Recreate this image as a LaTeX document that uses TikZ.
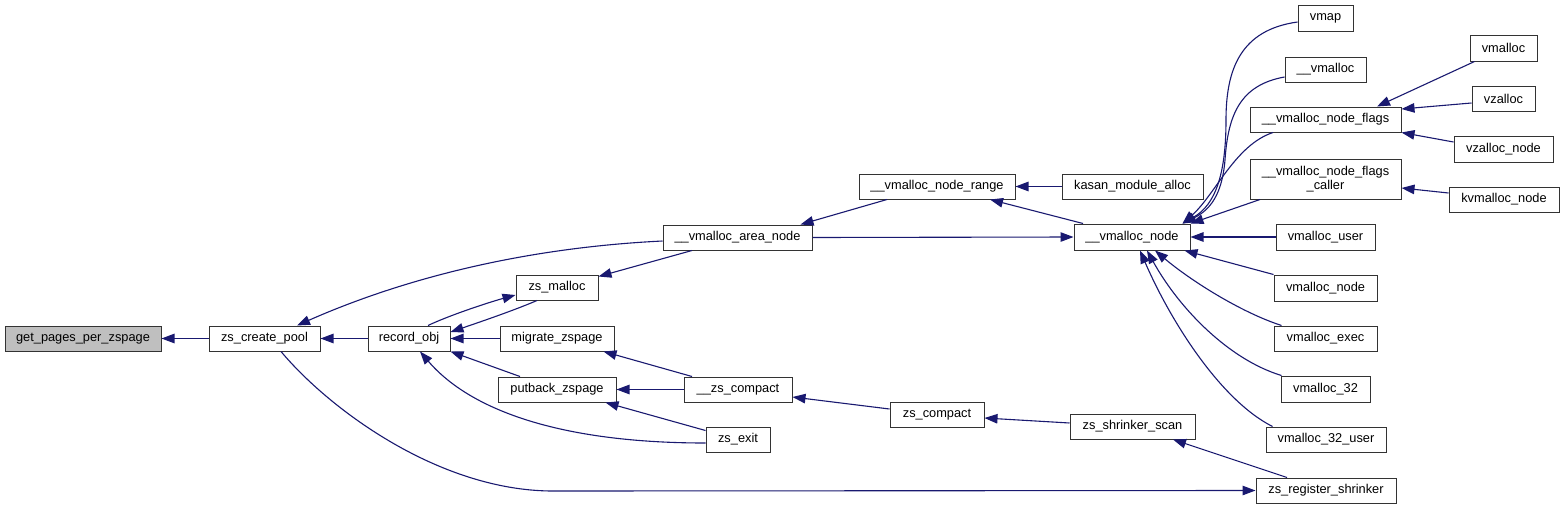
\documentclass[tikz,border=0pt]{standalone}
\usepackage{fontspec}
\setmainfont{Liberation Sans}
\usetikzlibrary{arrows.meta}
\definecolor{edgeblue}{HTML}{191970}
\definecolor{hlgray}{HTML}{BFBFBF}
\newcommand\nd[7][]{\node[box,#1,minimum width={#5-#3},minimum height={#6-#4}] (#2) at ({(#3+#5)/2},{(#4+#6)/2}) {#7};}
\begin{document}
\begin{tikzpicture}[x=1pt,y=-1pt,
  box/.style={draw=black!80,line width=1pt,fill=white,inner sep=0pt,font=\fontsize{12.8}{14}\selectfont,align=center},
  edge/.style={draw=edgeblue,line width=1.1pt,-{Triangle[length=13pt,width=9.5pt]}}]
\useasboundingbox[fill=white] (0,0) rectangle (1564,509);
% nodes
\nd[fill=hlgray]{gp}{5}{326}{161}{351}{get\_pages\_per\_zspage}
\nd{zcp}{209}{326}{320}{351}{zs\_create\_pool}
\nd{ro}{368}{326}{450}{351}{record\_obj}
\nd{zm}{516}{275}{598}{300}{zs\_malloc}
\nd{mz}{500}{326}{614}{351}{migrate\_zspage}
\nd{pz}{498}{377}{616}{402}{putback\_zspage}
\nd{ze}{706}{427}{770}{452}{zs\_exit}
\nd{zsc}{684}{377}{792}{402}{\_\_zs\_compact}
\nd{van}{663}{225}{812}{250}{\_\_vmalloc\_area\_node}
\nd{vnr}{859}{174}{1015}{199}{\_\_vmalloc\_node\_range}
\nd{kma}{1062}{174}{1203}{199}{kasan\_module\_alloc}
\nd{vn}{1074}{224}{1190}{250}{\_\_vmalloc\_node}
\nd{zc}{890}{402}{984}{427}{zs\_compact}
\nd{zss}{1070}{414}{1195}{439}{zs\_shrinker\_scan}
\nd{zrs}{1256}{478}{1396}{503}{zs\_register\_shrinker}
\nd{vmap}{1298}{5}{1353}{31}{vmap}
\nd{uv}{1285}{57}{1366}{82}{\_\_vmalloc}
\nd{vnf}{1250}{107}{1401}{132}{\_\_vmalloc\_node\_flags}
\nd{vnfc}{1250}{159}{1401}{199}{\_\_vmalloc\_node\_flags\\\_caller}
\nd{vu}{1276}{224}{1375}{250}{vmalloc\_user}
\nd{vmn}{1274}{275}{1377}{301}{vmalloc\_node}
\nd{vex}{1274}{326}{1377}{351}{vmalloc\_exec}
\nd{v32}{1281}{376}{1370}{402}{vmalloc\_32}
\nd{v32u}{1266}{427}{1386}{452}{vmalloc\_32\_user}
\nd{vm}{1470}{35}{1537}{61}{vmalloc}
\nd{vz}{1472}{86}{1535}{111}{vzalloc}
\nd{vzn}{1454}{136}{1553}{162}{vzalloc\_node}
\nd{kvn}{1449}{187}{1559}{212}{kvmalloc\_node}
% edges
\draw[edge] (zcp) -- (gp);
\draw[edge] (ro) -- (zcp);
\draw[edge] ([yshift=-3.5pt]van.west) .. controls (520,248) and (400,280) .. ([xshift=32.5pt]zcp.north);
\draw[edge] ([xshift=16.5pt]zcp.south) .. controls (330,410) and (440,491) .. (553,491) -- (zrs.west);
\draw[edge] ([xshift=-20pt]zm.south) .. controls (515,310) and (480,322) .. ([yshift=6.5pt]ro.east);
\draw[edge] ([xshift=19pt]ro.north) .. controls (450,315) and (490,302) .. ([yshift=-7.5pt]zm.west);
\draw[edge] (mz) -- (ro);
\draw[edge] ([xshift=-37pt]pz.north) -- (ro.south east);
\draw[edge] ([yshift=-3.5pt]ze.west) .. controls (560,443) and (470,410) .. ([xshift=11pt]ro.south);
\draw[edge] ([xshift=-45.5pt]van.south) -- ([yshift=-2pt]zm.north east);
\draw[edge] ([xshift=-46pt]zsc.north) -- ([xshift=-11pt]mz.south east);
\draw[edge] (zsc) -- (pz);
\draw[edge] ([yshift=-4pt]ze.north west) -- ([xshift=-11pt]pz.south east);
\draw[edge] ([yshift=5.5pt]zc.west) -- ([yshift=-7.5pt]zsc.east);
\draw[edge] ([yshift=3.5pt]zss.west) -- ([yshift=-3.5pt]zc.east);
\draw[edge] ([xshift=-39pt]zrs.north) -- ([xshift=40.5pt]zss.south);
\draw[edge] ([xshift=-50pt]vnr.south) -- ([xshift=-12pt]van.north east);
\draw[edge] (van.east) -- (vn.west);
\draw[edge] (kma) -- (vnr);
\draw[edge] ([xshift=-49pt]vn.north) -- ([xshift=53pt]vnr.south);
\draw[edge] ([yshift=-4pt]vmap.west) .. controls (1240,30) and (1226,70) .. (1226,120) .. controls (1226,175) and (1215,205) .. ([xshift=-8pt]vn.north east);
\draw[edge] ([yshift=-7.5pt]uv.west) .. controls (1240,85) and (1228,115) .. (1225,160) .. controls (1222,195) and (1210,210) .. ([xshift=-8pt]vn.north east);
\draw[edge] ([xshift=-52.5pt]vnf.south) .. controls (1235,145) and (1215,195) .. ([xshift=-8pt]vn.north east);
\draw[edge] ([xshift=-65.5pt]vnfc.south) -- (vn.north east);
\draw[edge] (vu) -- (vn);
\draw[edge] (vmn.north west) -- ([xshift=-6pt]vn.south east);
\draw[edge] ([xshift=8pt]vex.north west) .. controls (1240,312) and (1190,280) .. ([xshift=23pt]vn.south);
\draw[edge] ([xshift=1pt]v32.north west) .. controls (1230,360) and (1180,310) .. ([xshift=15pt]vn.south);
\draw[edge] ([xshift=7pt]v32u.north west) .. controls (1220,400) and (1170,320) .. ([xshift=8pt]vn.south);
\draw[edge] ([xshift=5pt]vm.south west) -- ([xshift=51.5pt]vnf.north);
\draw[edge] ([yshift=-4.5pt]vz.west) -- ([yshift=10.5pt]vnf.east);
\draw[edge] ([yshift=7pt]vzn.west) -- (vnf.south east);
\draw[edge] ([yshift=6.5pt]kvn.west) -- ([yshift=-9pt]vnfc.east);
\end{tikzpicture}
\end{document}
